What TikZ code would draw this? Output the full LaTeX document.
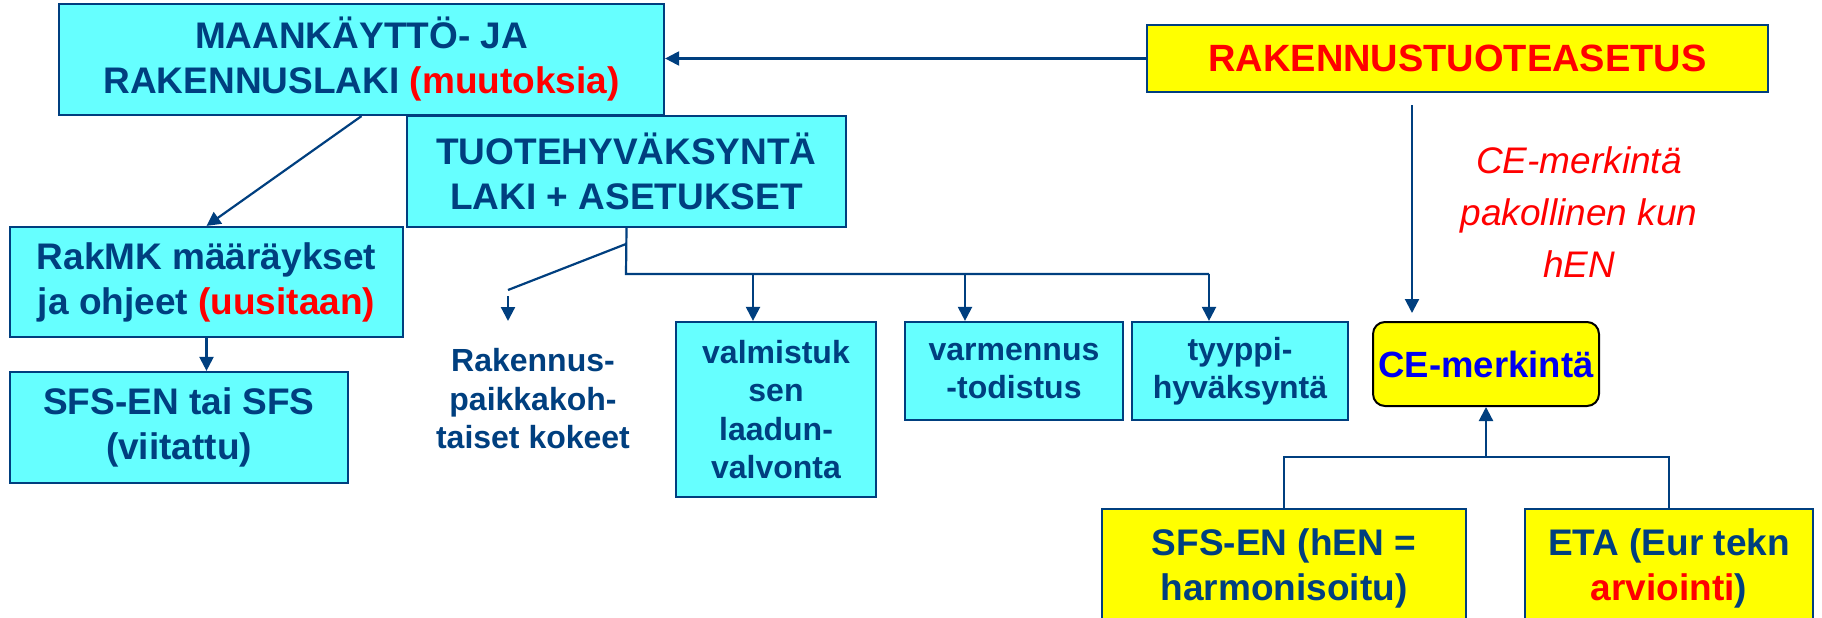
\documentclass[tikz,border=0pt]{standalone}
\usepackage{fontspec}
\setmainfont{Liberation Sans}
\usetikzlibrary{arrows.meta}
\definecolor{dblue}{HTML}{003F7F}
\definecolor{cyanf}{HTML}{66FFFF}
\definecolor{yel}{HTML}{FFFF00}
\definecolor{redt}{HTML}{FF0000}
\definecolor{ceblue}{HTML}{0000F0}
\begin{document}
\begin{tikzpicture}[x=1pt,y=-1pt,
  box/.style={draw=dblue, line width=2.2pt, fill=cyanf, inner sep=0pt, align=center, text=dblue,
    font=\bfseries\fontsize{37}{45}\selectfont},
  ybox/.style={box, fill=yel},
  smallf/.style={font=\bfseries\fontsize{32}{38.5}\selectfont},
  conn/.style={draw=dblue, line width=2.2pt},
  arr/.style={conn, -{Triangle[length=14pt,width=14pt]}},
]
\useasboundingbox (0,0) rectangle (1822,618);

\node[box, minimum width=605pt, minimum height=111pt] (maank) at (361.5,59.5)
  {MAANKÄYTTÖ- JA\\RAKENNUSLAKI {\color{redt}(muutoksia)}};
\node[ybox, minimum width=621pt, minimum height=67pt, text=redt,
  font=\bfseries\fontsize{38}{45}\selectfont] (raken) at (1457.5,58.5)
  {RAKENNUSTUOTEASETUS};
\node[box, minimum width=439pt, minimum height=111pt] (tuote) at (626.5,171.5)
  {TUOTEHYVÄKSYNTÄ\\LAKI + ASETUKSET};
\node[box, minimum width=393pt, minimum height=110pt] (rakmk) at (206.5,282)
  {RakMK määräykset\\ja ohjeet {\color{redt}(uusitaan)}};
\node[box, minimum width=338pt, minimum height=111pt] (sfs) at (179,427.5)
  {SFS-EN tai SFS\\(viitattu)};
\node[align=center, text=dblue, smallf, inner sep=0pt] (rakp) at (533,399)
  {Rakennus-\\paikkakoh-\\taiset kokeet};
\node[box, smallf, minimum width=200pt, minimum height=175pt] (valm) at (776,409.5)
  {valmistuk\\sen\\laadun-\\valvonta};
\node[box, smallf, minimum width=218pt, minimum height=98pt] (varm) at (1014,371)
  {varmennus\\-todistus};
\node[box, smallf, minimum width=216pt, minimum height=98pt] (tyyp) at (1240,371)
  {tyyppi-\\hyväksyntä};
\node[align=center, text=redt, inner sep=0pt, font=\itshape\fontsize{37}{52}\selectfont] (cetxt) at (1579,212)
  {CE-merkintä\\pakollinen kun\\hEN};
\node[draw=black, line width=2pt, fill=yel, rounded corners=12pt, inner sep=0pt,
  minimum width=226pt, minimum height=84pt, text=ceblue, font=\bfseries\fontsize{36.5}{45}\selectfont] (ce) at (1486,364)
  {CE-merkintä};
\node[ybox, minimum width=364pt, minimum height=118pt] (sfsh) at (1284,568)
  {SFS-EN (hEN =\\harmonisoitu)};
\node[ybox, minimum width=288pt, minimum height=118pt] (eta) at (1669,568)
  {ETA (Eur tekn\\{\color{redt}arviointi})};

% connectors
\draw[arr] (raken.west) -- (raken.west -| maank.east);
\draw[arr] (maank.south) -- (rakmk.north);
\draw[arr] (rakmk.south) -- (rakmk.south |- sfs.north);

\coordinate (br) at (626,274);
\coordinate (d1) at (753,274);
\coordinate (d2) at (965,274);
\coordinate (d3) at (1209,274);
\draw[conn] (tuote.south) -- (br) -- (d3);
\draw[arr] (d1) -- (d1 |- valm.north);
\draw[arr] (d2) -- (d2 |- varm.north);
\draw[arr] (d3) -- (d3 |- tyyp.north);

\coordinate (dg1) at (626,244);
\coordinate (dg2) at (508,290);
\coordinate (ra1) at (508,296);
\coordinate (ra2) at (508,321);
\draw[conn] (dg1) -- (dg2);
\draw[arr] (ra1) -- (ra2);

\coordinate (v1) at (1412,105);
\coordinate (v2) at (1412,313);
\draw[arr] (v1) -- (v2);

\coordinate (hb) at (1486,457);
\draw[arr] (hb) -- (ce.south);
\draw[conn] (sfsh.north) -- (sfsh.north |- hb) -- (eta.north |- hb) -- (eta.north);
\end{tikzpicture}
\end{document}
